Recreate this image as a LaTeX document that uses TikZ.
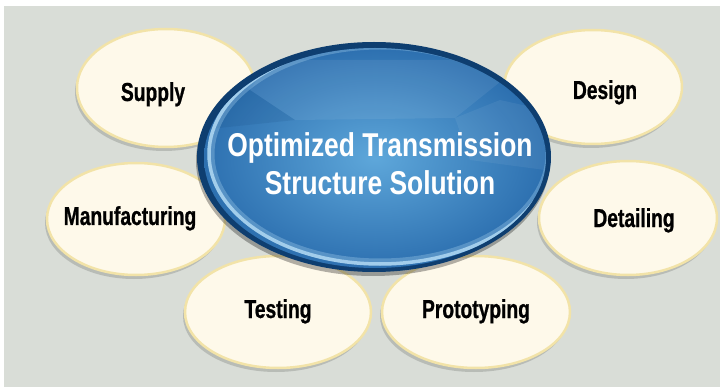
\documentclass[tikz,border=0pt]{standalone}
\usepackage{fontspec}
\newfontfamily\cond{Liberation Sans}[FakeStretch=0.8]
\newfontfamily\condl{Liberation Sans}[FakeStretch=0.74, FakeBold=0.8]
\usetikzlibrary{shapes.geometric,shadows}
\definecolor{bg}{HTML}{D9DDD7}
\definecolor{cream}{HTML}{FEF9EA}
\definecolor{rim}{HTML}{F2E3A8}
\definecolor{navy}{HTML}{0E3E70}
\definecolor{blueA}{HTML}{2D70B0}
\definecolor{blueB}{HTML}{5EA7DA}
\definecolor{hl}{HTML}{A2CDEB}
\begin{document}
\begin{tikzpicture}[x=1pt,y=-1pt,
 petal/.style={ellipse, inner sep=0pt, fill=cream, draw=rim, line width=2.5pt,
   drop shadow={shadow xshift=-2pt, shadow yshift=-4pt, fill=black, opacity=.15}},
 lbl/.style={font=\condl\bfseries\fontsize{26}{30}\selectfont, text=black, anchor=base, inner sep=0pt},
 big/.style={font=\cond\bfseries\fontsize{33}{38}\selectfont, anchor=base, inner sep=0pt}]
\useasboundingbox (0,0) rectangle (720,390);
\fill[white] (0,0) rectangle (720,390);
\fill[bg] (4,6) rectangle (720,387);
% petals
\node[petal, minimum width=186pt, minimum height=112pt] (testing) at (278,312) {};
\node[petal, minimum width=188pt, minimum height=112pt] (proto) at (476,312) {};
\node[petal, minimum width=178pt, minimum height=112pt] (manu) at (136,219) {};
\node[petal, minimum width=178pt, minimum height=114pt] (detail) at (628,218) {};
\node[petal, minimum width=178pt, minimum height=118pt] (supply) at (166,88) {};
\node[petal, minimum width=178pt, minimum height=114pt] (design) at (593,87) {};
% labels
\node[lbl] (tsupply) at (153,101) {Supply};
\node[lbl] (tdesign) at (605,99) {Design};
\node[lbl] (tmanu) at (130,225) {Manufacturing};
\node[lbl] (tdetail) at (634,227) {Detailing};
\node[lbl] (ttesting) at (278,318) {Testing};
\node[lbl] (tproto) at (476,318) {Prototyping};
% core
\node[ellipse, inner sep=0pt, minimum width=354pt, minimum height=230pt, fill=navy,
  drop shadow={shadow xshift=-1pt, shadow yshift=-4pt, fill=black, opacity=.3}] (core) at (374,157) {};
\shade[inner color=blueB, outer color=blueA] (375,158) ellipse [x radius=171, y radius=110];
\begin{scope}
\clip (375,158) ellipse [x radius=171, y radius=110];
\fill[white, opacity=.07] (250,90) -- (295,120) -- (455,118) -- (500,82) -- (480,60) -- (270,60) -- cycle;
\fill[white, opacity=.06] (455,118) -- (500,100) -- (545,110) -- (545,170) -- (470,160) -- cycle;
\fill[navy, opacity=.12] (200,60) -- (250,90) -- (295,120) -- (200,130) -- cycle;
\draw[hl, line width=3.5pt] (380,154) ellipse [x radius=171, y radius=110];
\draw[hl, opacity=.35, line width=7pt] (380,154) ellipse [x radius=169, y radius=108];
\end{scope}
% title
\node[big, text=white] (title1) at (380,157) {Optimized Transmission};
\node[big, text=white] (title2) at (380,195) {Structure Solution};
\end{tikzpicture}
\end{document}
